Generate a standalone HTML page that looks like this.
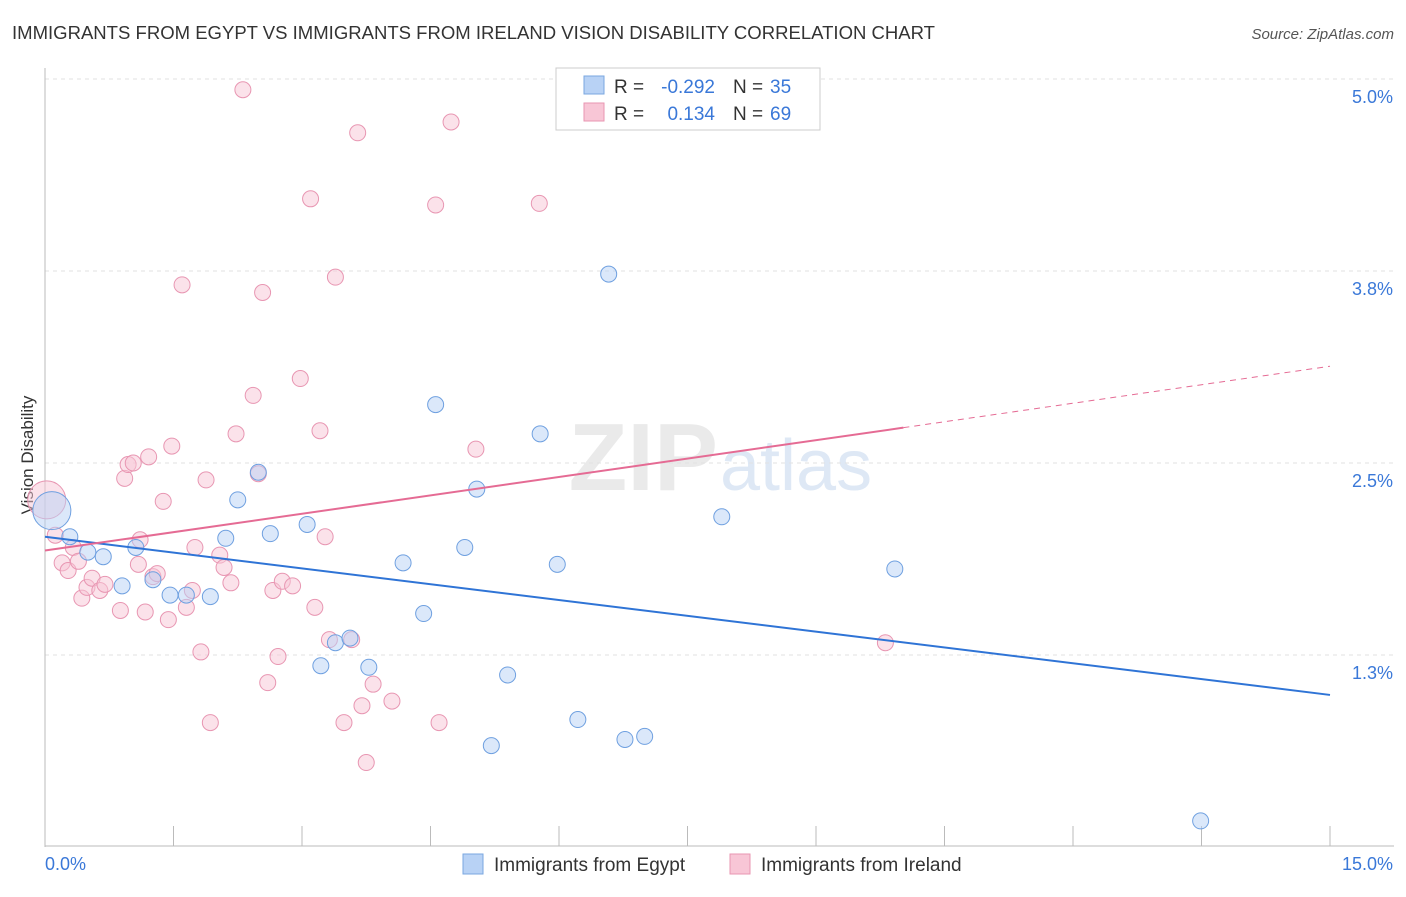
<!DOCTYPE html>
<html><head><meta charset="utf-8">
<style>
body{margin:0;background:#fff;font-family:"Liberation Sans",sans-serif;}
svg text{font-family:"Liberation Sans",sans-serif;}
</style></head>
<body>
<svg id="chart" width="1406" height="892" xmlns="http://www.w3.org/2000/svg">
<text x="12" y="39" font-size="18" fill="#333" textLength="923" lengthAdjust="spacingAndGlyphs">IMMIGRANTS FROM EGYPT VS IMMIGRANTS FROM IRELAND VISION DISABILITY CORRELATION CHART</text>
<text x="1394" y="39" font-size="15" fill="#555" text-anchor="end" font-style="italic">Source: ZipAtlas.com</text>
<text x="718" y="490" font-size="96" fill="#ddd" text-anchor="end" font-family="Liberation Serif" font-weight="bold" opacity="0.6">ZIP</text>
<text x="720" y="490" font-size="72" fill="#c9daf0" opacity="0.6">atlas</text>
<text transform="translate(33,455) rotate(-90)" font-size="17" fill="#333" text-anchor="middle">Vision Disability</text>
<g id="grid"></g>
<g id="marks"></g>
<g>
<rect x="556" y="68" width="264" height="62" fill="#fff" stroke="#ccc"/>
<rect x="584" y="76" width="20" height="18" fill="#b8d2f5" stroke="#7aa7e0"/>
<rect x="584" y="103" width="20" height="18" fill="#f8c6d6" stroke="#e896b2"/>
<text x="614" y="93" font-size="19" fill="#333">R =</text>
<text x="715" y="93" font-size="19" fill="#3a78d8" text-anchor="end">-0.292</text>
<text x="733" y="93" font-size="19" fill="#333">N =</text>
<text x="770" y="93" font-size="19" fill="#3a78d8">35</text>
<text x="614" y="120" font-size="19" fill="#333">R =</text>
<text x="715" y="120" font-size="19" fill="#3a78d8" text-anchor="end">0.134</text>
<text x="733" y="120" font-size="19" fill="#333">N =</text>
<text x="770" y="120" font-size="19" fill="#3a78d8">69</text>
</g>
<g>
<rect x="463" y="854" width="20" height="20" fill="#b8d2f5" stroke="#7aa7e0"/>
<text x="494" y="871" font-size="19" fill="#333">Immigrants from Egypt</text>
<rect x="730" y="854" width="20" height="20" fill="#f8c6d6" stroke="#e896b2"/>
<text x="761" y="871" font-size="19" fill="#333">Immigrants from Ireland</text>
</g>
</svg>
<script>
const yTicks=[1.25,2.5,3.75,5.0];
const yTickLabels=["1.3%","2.5%","3.8%","5.0%"];
const xTicks=[0,1.5,3,4.5,6,7.5,9,10.5,12,13.5,15];
const egyptX=[0.08,0.29,0.50,0.68,0.90,1.06,1.26,1.46,1.65,1.93,2.11,2.25,2.49,2.63,3.06,3.22,3.39,3.56,3.78,4.18,4.42,4.56,4.90,5.04,5.21,5.40,5.78,5.98,6.22,6.58,6.77,7.00,7.90,9.92,13.49];
const egyptY=[2.19,2.02,1.92,1.89,1.70,1.95,1.74,1.64,1.64,1.63,2.01,2.26,2.44,2.04,2.10,1.18,1.33,1.36,1.17,1.85,1.52,2.88,1.95,2.33,0.66,1.12,2.69,1.84,0.83,3.73,0.70,0.72,2.15,1.81,0.17];
const irelandX=[0.02,0.12,0.20,0.27,0.33,0.39,0.43,0.49,0.55,0.64,0.70,0.88,0.93,0.97,1.03,1.09,1.11,1.17,1.21,1.26,1.31,1.38,1.44,1.48,1.60,1.65,1.72,1.75,1.82,1.88,1.93,2.04,2.09,2.17,2.23,2.31,2.43,2.49,2.54,2.60,2.66,2.72,2.77,2.89,2.98,3.10,3.15,3.21,3.27,3.32,3.39,3.49,3.58,3.65,3.70,3.75,3.83,4.05,4.56,4.60,4.74,5.03,5.77,9.81];
const irelandY=[2.26,2.03,1.85,1.80,1.95,1.86,1.62,1.69,1.75,1.67,1.71,1.54,2.40,2.49,2.50,1.84,2.00,1.53,2.54,1.76,1.78,2.25,1.48,2.61,3.66,1.56,1.67,1.95,1.27,2.39,0.81,1.90,1.82,1.72,2.69,4.93,2.94,2.43,3.61,1.07,1.67,1.24,1.73,1.70,3.05,4.22,1.56,2.71,2.02,1.35,3.71,0.81,1.35,4.65,0.92,0.55,1.06,0.95,4.18,0.81,4.72,2.59,4.19,1.33];
const egyptTrend=[2.02,0.99];
const irelandTrend=[1.93,2.73,3.13];
const irelandTrendX=[0,10.02,15];

const X0=45,X1=1330,Y0=847,Y5=79;
function xs(v){return X0+(X1-X0)*v/15;}
function ys(v){return Y0-(Y0-Y5)*v/5;}
const NS="http://www.w3.org/2000/svg";
function mk(tag,attrs,parent){const e=document.createElementNS(NS,tag);for(const k in attrs)e.setAttribute(k,attrs[k]);parent.appendChild(e);return e;}
const grid=document.getElementById('grid'),marks=document.getElementById('marks');
yTicks.forEach((t,i)=>{
  const l=mk('line',{x1:X0,x2:1394,y1:ys(t),y2:ys(t),stroke:'#e2e2e2','stroke-dasharray':'4,4'},grid);
  
  
  const tx=mk('text',{x:1393,y:ys(t)+24,'font-size':18,fill:'#3a78d8','text-anchor':'end'},grid);
  tx.textContent=yTickLabels[i];
  
  
});
const ax=mk('line',{x1:X0,x2:X0,y1:68,y2:847,stroke:'#bbb'},grid);


const bx=mk('line',{x1:X0,x2:1394,y1:846,y2:846,stroke:'#bbb'},grid);


xTicks.forEach(t=>{
  const l=mk('line',{x1:xs(t),x2:xs(t),y1:826,y2:846,stroke:'#bbb'},grid);
  
  
});
const xl0=mk('text',{x:45,y:870,'font-size':18,fill:'#3a78d8'},grid);xl0.textContent='0.0%';


const xl1=mk('text',{x:1393,y:870,'font-size':18,fill:'#3a78d8','text-anchor':'end'},grid);xl1.textContent='15.0%';



function pts(xa,ya,fill,stroke,name){
  xa.forEach((x,i)=>{
    const big=(i===0);
    const c=mk('circle',{cx:xs(x),cy:ys(ya[i]),r:big?19:8,fill:fill,'fill-opacity':0.5,stroke:stroke,'stroke-width':1},marks);
    
    
  });
}
pts(irelandX,irelandY,'#f8c6d6','#e896b2','ireland-point');
pts(egyptX,egyptY,'#b8d2f5','#6fa0e0','egypt-point');
const bl=mk('line',{x1:xs(0),y1:ys(egyptTrend[0]),x2:xs(15),y2:ys(egyptTrend[1]),stroke:'#2f74d6','stroke-width':2},marks);


const pl=mk('line',{x1:xs(irelandTrendX[0]),y1:ys(irelandTrend[0]),x2:xs(irelandTrendX[1]),y2:ys(irelandTrend[1]),stroke:'#e56b94','stroke-width':2},marks);


const pd=mk('line',{x1:xs(irelandTrendX[1]),y1:ys(irelandTrend[1]),x2:xs(irelandTrendX[2]),y2:ys(irelandTrend[2]),stroke:'#e56b94','stroke-width':1,'stroke-dasharray':'6,5'},marks);


</script>
</body></html>
